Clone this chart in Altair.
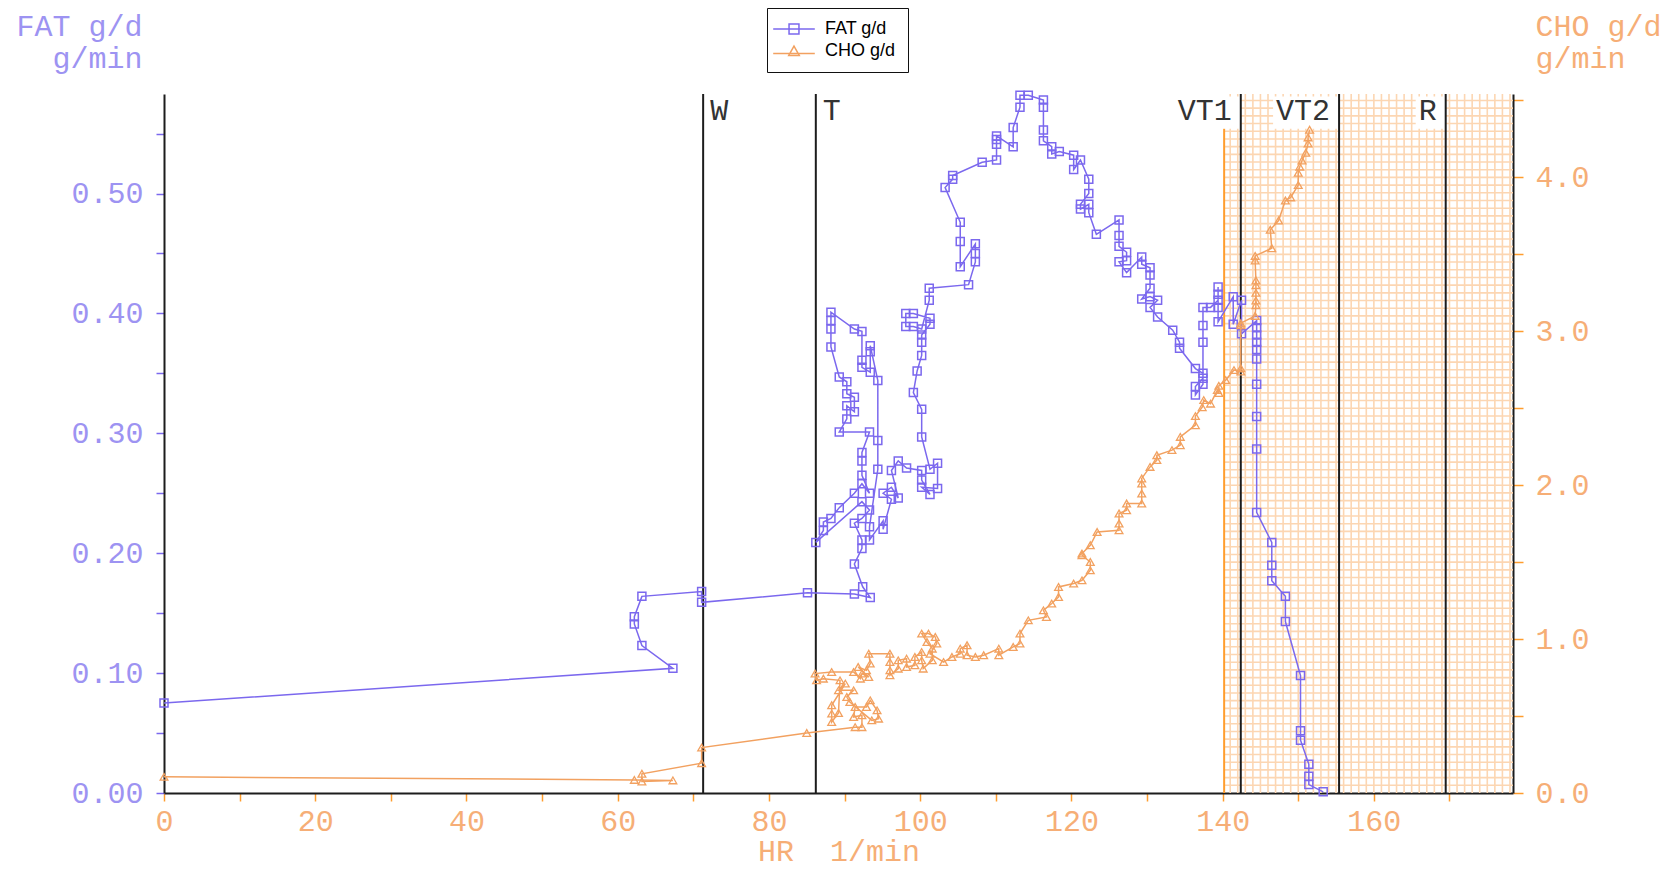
import altair as alt
import pandas as pd

# ---------------- data ----------------
FAT_HR = [0, 67.3, 63.2, 62.2, 62.2, 63.2, 71.1, 71.1, 85.1, 91.3,
          93.4, 92.4, 91.3, 92.3, 92.3, 91.3, 92.3, 93.3, 92.3, 86.2,
          87.2, 87.2, 88.2, 89.3, 91.3, 92.3, 93.3, 92.3, 92.3, 92.3,
          93.3, 89.3, 90.3, 90.3, 91.3, 91.3, 90.3, 90.3, 89.3, 88.2,
          88.2, 88.2, 88.2, 91.3, 92.3, 92.3, 92.3, 93.4, 93.4, 93.4,
          94.4, 94.4, 94.4, 93.3, 93.3, 95.1, 95.1, 96.2, 95.1, 96.2,
          97.1, 96.2, 97.1, 98.2, 100.2, 100.2, 101.3, 100.2, 102.3, 102.3,
          101.3, 100.2, 100.2, 99.1, 99.6, 100.2, 100.2, 100.2, 101.3, 101.3,
          99.1, 98.1, 98.1, 99.1, 100.2, 101.2, 101.2, 106.4, 107.3, 107.3,
          107.3, 105.3, 105.3, 105.3, 103.3, 104.3, 104.3, 108.2, 110.1, 110.1,
          110.1, 110.1, 112.3, 112.3, 113.2, 113.2, 114.3, 116.3, 116.3, 116.3,
          116.3, 117.4, 117.4, 118.4, 120.3, 120.3, 121.2, 122.3, 122.3, 121.2,
          121.2, 122.3, 122.3, 123.3, 126.3, 126.3, 126.3, 127.3, 127.3, 126.3,
          127.3, 129.3, 129.3, 130.4, 130.4, 130.4, 129.3, 130.4, 131.4, 130.4,
          131.4, 133.4, 134.3, 134.3, 136.4, 137.4, 137.4, 136.4, 136.4, 137.4,
          137.4, 137.4, 137.4, 138.4, 139.4, 139.4, 139.4, 139.4, 139.4, 141.4,
          141.4, 142.5, 142.5, 144.5, 144.5, 144.5, 144.5, 144.5, 144.5, 144.5,
          144.5, 144.5, 144.5, 146.5, 146.5, 146.5, 148.3, 148.3, 150.3, 150.3,
          150.3, 151.4, 151.4, 151.4, 153.3]
FAT_G = [0.075, 0.104, 0.123, 0.141, 0.147, 0.164, 0.168, 0.159, 0.167, 0.166,
         0.163, 0.172, 0.191, 0.204, 0.211, 0.225, 0.229, 0.236, 0.243, 0.209,
         0.219, 0.226, 0.229, 0.238, 0.250, 0.258, 0.250, 0.265, 0.277, 0.284,
         0.301, 0.301, 0.312, 0.323, 0.318, 0.330, 0.333, 0.343, 0.347, 0.372,
         0.387, 0.394, 0.401, 0.387, 0.385, 0.361, 0.355, 0.351, 0.368, 0.373,
         0.344, 0.294, 0.270, 0.222, 0.211, 0.227, 0.220, 0.245, 0.250, 0.255,
         0.246, 0.269, 0.277, 0.271, 0.269, 0.261, 0.249, 0.255, 0.254, 0.275,
         0.270, 0.297, 0.320, 0.334, 0.352, 0.365, 0.376, 0.382, 0.391, 0.396,
         0.400, 0.400, 0.389, 0.389, 0.387, 0.411, 0.421, 0.424, 0.443, 0.450,
         0.458, 0.439, 0.460, 0.476, 0.505, 0.512, 0.515, 0.526, 0.528, 0.541,
         0.545, 0.548, 0.539, 0.555, 0.572, 0.582, 0.582, 0.578, 0.572, 0.553,
         0.544, 0.539, 0.533, 0.535, 0.532, 0.520, 0.528, 0.512, 0.500, 0.491,
         0.487, 0.491, 0.484, 0.466, 0.478, 0.465, 0.456, 0.451, 0.444, 0.443,
         0.434, 0.447, 0.441, 0.438, 0.432, 0.421, 0.412, 0.414, 0.411, 0.405,
         0.397, 0.386, 0.376, 0.371, 0.354, 0.350, 0.346, 0.339, 0.332, 0.341,
         0.376, 0.390, 0.405, 0.405, 0.411, 0.422, 0.416, 0.405, 0.393, 0.414,
         0.391, 0.411, 0.383, 0.394, 0.388, 0.382, 0.376, 0.370, 0.362, 0.341,
         0.314, 0.287, 0.234, 0.209, 0.190, 0.177, 0.164, 0.143, 0.098, 0.052,
         0.044, 0.024, 0.014, 0.007, 0.001]

CHO_HR = [0, 62.2, 67.3, 63.2, 63.2, 71.1, 71.1, 85.0, 91.4, 92.3,
          92.3, 91.2, 91.4, 92.9, 93.4, 94.3, 94.5, 93.6, 90.7, 90.3,
          91.2, 89.2, 90.1, 88.3, 88.3, 88.3, 89.2, 89.4, 87.2, 86.3,
          86.1, 88.3, 91.2, 92.1, 92.3, 93.2, 91.8, 92.9, 93.4, 93.2,
          96.0, 96.0, 96.0, 96.0, 97.1, 97.1, 98.2, 98.2, 99.3, 99.3,
          100.2, 100.2, 100.4, 101.6, 101.6, 100.9, 100.2, 101.1, 102.0, 102.2,
          101.3, 103.1, 104.2, 105.3, 105.3, 106.2, 106.2, 107.3, 108.4, 110.4,
          110.4, 112.3, 113.2, 113.2, 114.3, 116.7, 116.3, 117.4, 118.3, 118.3,
          120.3, 121.4, 122.5, 122.5, 121.4, 121.4, 122.5, 123.4, 126.3, 126.3,
          126.3, 127.3, 127.3, 129.3, 129.3, 129.3, 129.3, 130.4, 131.3, 131.3,
          133.3, 134.4, 134.4, 136.4, 136.4, 137.3, 137.5, 138.4, 139.3, 139.5,
          139.5, 140.4, 141.5, 142.4, 142.4, 142.4, 142.4, 144.3, 144.4, 144.4,
          144.4, 144.4, 144.4, 144.3, 144.3, 146.5, 146.3, 147.4, 148.3, 149.0,
          150.0, 150.0, 150.2, 150.5, 151.0, 151.3, 151.3, 151.5]
CHO_G = [0.105, 0.085, 0.082, 0.075, 0.125, 0.194, 0.295, 0.390, 0.428, 0.428,
         0.505, 0.494, 0.559, 0.559, 0.602, 0.537, 0.483, 0.472, 0.591, 0.624,
         0.667, 0.667, 0.711, 0.570, 0.516, 0.461, 0.520, 0.732, 0.743, 0.732,
         0.776, 0.786, 0.786, 0.743, 0.776, 0.754, 0.819, 0.797, 0.841, 0.905,
         0.905, 0.851, 0.797, 0.765, 0.808, 0.862, 0.873, 0.819, 0.830, 0.884,
         0.916, 0.862, 0.808, 0.862, 0.938, 0.981, 1.036, 1.036, 1.014, 0.971,
         0.905, 0.851, 0.884, 0.905, 0.938, 0.960, 0.895, 0.884, 0.895, 0.938,
         0.895, 0.949, 0.971, 1.036, 1.122, 1.144, 1.187, 1.231, 1.274, 1.339,
         1.361, 1.382, 1.447, 1.501, 1.545, 1.556, 1.610, 1.696, 1.707, 1.751,
         1.816, 1.837, 1.881, 1.881, 1.946, 2.011, 2.044, 2.119, 2.163, 2.195,
         2.228, 2.260, 2.314, 2.390, 2.449, 2.507, 2.553, 2.530, 2.618, 2.599,
         2.646, 2.683, 2.748, 2.739, 2.760, 3.040, 3.053, 3.100, 3.170, 3.200,
         3.250, 3.300, 3.330, 3.460, 3.490, 3.540, 3.660, 3.720, 3.850, 3.870,
         3.950, 4.030, 4.070, 4.110, 4.160, 4.220, 4.260, 4.310]

SERIES = ["FAT g/d", "CHO g/d"]
THR_NAMES = ["W", "T", "VT1", "VT2", "R"]
THR_HR = [71.3, 86.2, 142.4, 155.4, 169.5]
THR_SIDE = ["right", "right", "left", "left", "left"]
ZONE_HR = [140.2]
ZONE_TOP = [4.32]
HR_MAX = 178.4
FAT_MAX = 0.583
CHO_MAX = 4.542
LABEL_LEVEL = 0.569
LABEL_BOX = [0.554, 0.581]

X_TICKS = [0, 10, 20, 30, 40, 50, 60, 70, 80, 90, 100, 110, 120, 130, 140, 150, 160, 170]
FAT_TICKS = [0.0, 0.05, 0.1, 0.15, 0.2, 0.25, 0.3, 0.35, 0.4, 0.45, 0.5, 0.55]
CHO_TICKS = [0.0, 0.5, 1.0, 1.5, 2.0, 2.5, 3.0, 3.5, 4.0, 4.5]

# ---------------- styling ----------------
W, H = 1349, 699
PX_PER_HR = W / HR_MAX
MONO = "Liberation Mono"
FS = 30
PURPLE = "#7b68ee"
PURPLE_TXT = "#9d93f2"
ORANGE = "#f2a160"
ORANGE_TXT = "#f6ae76"
ORANGE_TICK = "#ff9d2e"
HATCH = "#fcd6b2"
BLACK = "#1c1c1c"

fat_df = pd.DataFrame({"hr": FAT_HR, "g": FAT_G, "i": list(range(len(FAT_HR)))})
cho_df = pd.DataFrame({"hr": CHO_HR, "g": CHO_G, "i": list(range(len(CHO_HR)))})
thr_df = pd.DataFrame({"name": THR_NAMES, "hr": THR_HR, "side": THR_SIDE})
zone_df = pd.DataFrame({"hr": ZONE_HR, "top": ZONE_TOP})
leg_df = pd.DataFrame({"series": SERIES, "hr": [0, 0], "g": [0, 0]})

x_scale = alt.Scale(domain=[0, HR_MAX], nice=False, zero=False)
fat_scale = alt.Scale(domain=[0, FAT_MAX], nice=False, zero=False)
cho_scale = alt.Scale(domain=[0, CHO_MAX], nice=False, zero=False)
hatch_scale = alt.Scale(domain=[0, CHO_MAX], nice=False, zero=False)

X_AXIS = alt.Axis(
    values=X_TICKS, labelExpr="datum.value % 20 == 0 ? format(datum.value, 'd') : ''",
    title="HR\u00a0 1/min", grid=False, domainColor=BLACK, domainWidth=2,
    tickColor=ORANGE_TICK, tickSize=8, tickWidth=1.5, labelColor=ORANGE_TXT, labelFont=MONO,
    labelFontSize=FS, labelPadding=5, labelFlush=False, labelOverlap=False, labelBound=False,
    titleFont=MONO, titleFontSize=FS, titleFontWeight="normal", titleColor=ORANGE_TXT, titlePadding=0,
)
FAT_AXIS = alt.Axis(
    orient="left", values=FAT_TICKS,
    labelExpr="round(datum.value * 20) % 2 == 0 ? format(datum.value, '.2f') : ''",
    title=["FAT g/d", "g/min"], titleAngle=0, titleAlign="right", titleBaseline="top",
    titleX=-22, titleY=-83, titleLineHeight=32, titleFont=MONO, titleFontSize=FS,
    titleFontWeight="normal", titleColor=PURPLE_TXT,
    grid=False, domainColor=BLACK, domainWidth=2, tickColor=PURPLE, tickSize=8, tickWidth=1.5,
    labelColor=PURPLE_TXT, labelFont=MONO, labelFontSize=FS, labelPadding=13,
    labelOverlap=False, labelBound=False, labelFlush=False,
)
CHO_AXIS = alt.Axis(
    orient="right", values=CHO_TICKS,
    labelExpr="round(datum.value * 2) % 2 == 0 ? format(datum.value, '.1f') : ''",
    title=["CHO g/d", "g/min"], titleAngle=0, titleAlign="left", titleBaseline="top",
    titleX=22, titleY=-83, titleLineHeight=32, titleFont=MONO, titleFontSize=FS,
    titleFontWeight="normal", titleColor=ORANGE_TXT,
    grid=False, domainColor=BLACK, domainWidth=2, tickColor=ORANGE_TICK, tickSize=10, tickWidth=1.5,
    labelColor=ORANGE_TXT, labelFont=MONO, labelFontSize=FS, labelPadding=12,
    labelOverlap=False, labelBound=False, labelFlush=False,
)


def xenc(field="hr:Q"):
    return alt.X(field, scale=x_scale, axis=X_AXIS)


# ---------------- hatch (shaded zone) ----------------
hatch_v = alt.Chart(alt.sequence(141, 179, 1, as_="hx")).mark_rule(
    color=HATCH, strokeWidth=1.6).encode(x=xenc("hx:Q"))
hatch_h = alt.Chart(alt.sequence(0.05, 4.55, 0.05, as_="hy")).mark_rule(
    color=HATCH, strokeWidth=1.6).encode(
    x=alt.X(datum=ZONE_HR[0], scale=x_scale, axis=X_AXIS),
    x2=alt.X2(datum=HR_MAX),
    y=alt.Y("hy:Q", scale=hatch_scale, axis=None),
)
zone_rule = alt.Chart(zone_df).mark_rule(color=ORANGE_TICK, strokeWidth=2).encode(
    x=xenc(), y=alt.Y("top:Q", scale=hatch_scale, axis=None), y2=alt.Y2(datum=0))
hatch_group = alt.layer(hatch_v, hatch_h, zone_rule)

# ---------------- FAT (left axis) ----------------
lab_box = alt.Chart(thr_df).transform_filter("datum.side == 'left'").transform_calculate(
    x0=f"datum.hr - (length(datum.name) * {FS * 0.6} + 12) / {PX_PER_HR}").mark_rect(
    color="white").encode(
    x=alt.X("x0:Q", scale=x_scale, axis=X_AXIS), x2="hr:Q",
    y=alt.Y(datum=LABEL_BOX[0], scale=fat_scale, axis=FAT_AXIS), y2=alt.Y2(datum=LABEL_BOX[1]))
thr_rules = alt.Chart(thr_df).mark_rule(color=BLACK, strokeWidth=2).encode(x=xenc())
lab_r = alt.Chart(thr_df).transform_filter("datum.side == 'right'").mark_text(
    align="left", baseline="middle", dx=7, font=MONO, fontSize=FS, color="#333").encode(
    x=xenc(), y=alt.Y(datum=LABEL_LEVEL, scale=fat_scale, axis=FAT_AXIS), text="name:N")
lab_l = alt.Chart(thr_df).transform_filter("datum.side == 'left'").mark_text(
    align="right", baseline="middle", dx=-9, font=MONO, fontSize=FS, color="#333").encode(
    x=xenc(), y=alt.Y(datum=LABEL_LEVEL, scale=fat_scale, axis=FAT_AXIS), text="name:N")
fat_line = alt.Chart(fat_df).mark_line(color=PURPLE, strokeWidth=1.5).encode(
    x=xenc(), y=alt.Y("g:Q", scale=fat_scale, axis=FAT_AXIS), order="i:Q")
fat_pts = alt.Chart(fat_df).mark_point(
    shape="square", filled=False, color=PURPLE, size=64, strokeWidth=1.5, opacity=1).encode(
    x=xenc(), y=alt.Y("g:Q", scale=fat_scale, axis=FAT_AXIS))
fat_group = alt.layer(lab_box, thr_rules, lab_r, lab_l, fat_line, fat_pts)

# ---------------- CHO (right axis) ----------------
cho_line = alt.Chart(cho_df).mark_line(color=ORANGE, strokeWidth=1.5).encode(
    x=xenc(), y=alt.Y("g:Q", scale=cho_scale, axis=CHO_AXIS), order="i:Q")
cho_pts = alt.Chart(cho_df).mark_point(
    shape="triangle-up", filled=False, color=ORANGE, size=60, strokeWidth=1.3, opacity=1).encode(
    x=xenc(), y=alt.Y("g:Q", scale=cho_scale, axis=CHO_AXIS))

SQ_PATH = "M-2.6,0H2.6M-0.62,-0.62H0.62V0.62H-0.62Z"
TRI_PATH = "M-2.6,0.3H2.6M0,-0.62L0.66,0.55H-0.66Z"
LEG = alt.Legend(
    title=None, orient="none", legendX=603, legendY=-86, direction="vertical",
    strokeColor="#111", fillColor="white", padding=12, rowPadding=4,
    labelFont="Liberation Sans", labelFontSize=18, labelColor="black",
    symbolSize=256, symbolStrokeWidth=1.5, symbolOffset=6, labelOffset=22,
)
legend_layer = alt.Chart(leg_df).transform_filter("false").mark_point(
    filled=False, opacity=1, strokeWidth=1.5).encode(
    x=xenc(), y=alt.Y("g:Q", scale=cho_scale, axis=CHO_AXIS),
    color=alt.Color("series:N", scale=alt.Scale(domain=SERIES, range=[PURPLE, ORANGE]), legend=LEG),
    shape=alt.Shape("series:N", scale=alt.Scale(domain=SERIES, range=[SQ_PATH, TRI_PATH]), legend=LEG),
)
cho_group = alt.layer(cho_line, cho_pts, legend_layer)

chart = alt.layer(hatch_group, fat_group, cho_group).resolve_scale(
    y="independent").properties(
    width=W, height=H,
    autosize=alt.AutoSizeParams(type="none"),
    padding={"left": 156, "top": 86, "right": 150, "bottom": 75},
    background="white",
).configure_view(stroke=None)

chart.save("out.html", embed_options={"renderer": "svg", "actions": False})
